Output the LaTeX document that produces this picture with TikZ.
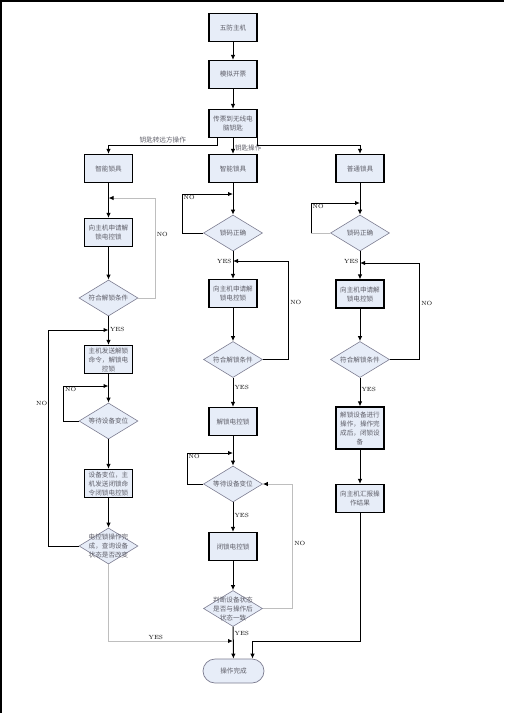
\documentclass[tikz,border=0pt]{standalone}
\usepackage{fontspec}
\usepackage{xcolor}
\usepackage{tikz}
\usetikzlibrary{shapes.geometric, arrows.meta}
\newfontfamily\cjk{Noto Sans CJK SC}
\definecolor{boxblue}{RGB}{231,237,248}
\definecolor{txtgray}{RGB}{95,95,105}
\definecolor{diagray}{RGB}{125,125,145}
\definecolor{linegray}{RGB}{190,190,190}
\newcommand{\boxfont}{\cjk\fontsize{6.6}{9}\selectfont}
\tikzstyle{stepbox} = [rectangle, draw, line width=1.1pt, fill=boxblue, minimum width=48pt, minimum height=28pt, inner sep=1pt, align=center, font=\boxfont, text=txtgray]
\tikzstyle{decide} = [diamond, draw=diagray, line width=0.6pt, fill=boxblue, minimum width=59pt, minimum height=36pt, inner sep=0pt]
\tikzstyle{dtxt} = [font=\boxfont, text=txtgray, align=center, inner sep=0pt]
\tikzstyle{finish} = [rectangle, rounded corners=12pt, draw=diagray, line width=0.7pt, fill=boxblue, minimum width=61pt, minimum height=24pt, font=\boxfont, text=txtgray]
\tikzstyle{arrow} = [-{Latex[length=5pt,width=4.5pt,color=black]}, line width=1pt]
\tikzstyle{lbl} = [font=\fontsize{6}{6}\selectfont, inner sep=1pt]
\tikzstyle{clbl} = [font=\boxfont, text=txtgray, inner sep=1.5pt]

\begin{document}
\begin{tikzpicture}[x=1pt, y=-1pt]
\useasboundingbox (0,0) rectangle (504,713);
\draw[line width=1.6pt] (0,0.8) -- (504,0.8);
\draw[line width=1.6pt] (1,0) -- (1,713);

% main column
\node (host) at (233,27.5) [stepbox] {五防主机};
\node (ticket) at (233,74.5) [stepbox] {模拟开票};
\node (trans) at (233,123.5) [stepbox] {传票到无线电\\脑钥匙};

% left column
\node (l1) at (108.5,168.5) [stepbox] {智能锁具};
\node (l2) at (108.5,232.5) [stepbox] {向主机申请解\\锁电控锁};
\node (ld1) at (108.5,298) [decide, label={[dtxt]center:符合解锁条件}] {};
\node (l3) at (108.5,359.5) [stepbox] {主机发送解锁\\命令，解锁电\\控锁};
\node (ld2) at (108.5,421) [decide, label={[dtxt]center:等待设备变位}] {};
\node (l4) at (108.5,483.5) [stepbox] {设备变位，主\\机发送闭锁命\\令闭锁电控锁};
\node (ld3) at (108.5,546) [decide, label={[dtxt]center:电控锁操作完\\成，查询设备\\状态是否改变}] {};

% middle column
\node (m1) at (233,168.5) [stepbox] {智能锁具};
\node (md1) at (233,233) [decide, label={[dtxt]center:锁码正确}] {};
\node (m2) at (233,293.5) [stepbox] {向主机申请解\\锁电控锁};
\node (md2) at (233,359.5) [decide, label={[dtxt]center:符合解锁条件}] {};
\node (m3) at (233,421.5) [stepbox] {解锁电控锁};
\node (md3) at (233,484) [decide, label={[dtxt]center:等待设备变位}] {};
\node (m4) at (233,546.5) [stepbox] {闭锁电控锁};
\node (md4) at (233,608.5) [decide, label={[dtxt]center:判断设备状态\\是否与操作后\\状态一致}] {};
\node (done) at (233.5,671) [finish] {操作完成};

% right column
\node (r1) at (360,168.5) [stepbox] {普通锁具};
\node (rd1) at (360,233) [decide, label={[dtxt]center:锁码正确}] {};
\node (r2) at (360,294) [stepbox] {向主机申请解\\锁电控锁};
\node (rd2) at (360,359.5) [decide, label={[dtxt]center:符合解锁条件}] {};
\node (r3) at (360,428) [stepbox, minimum height=42pt] {解锁设备进行\\操作，操作完\\成后，闭锁设\\备};
\node (r4) at (360,498.5) [stepbox] {向主机汇报操\\作结果};

% join points
\coordinate (lj1) at (108.5,198);
\coordinate (lj2) at (108.5,330);
\coordinate (lj3) at (108.5,386);
\coordinate (mj1) at (233,194);
\coordinate (mj2) at (233,261);
\coordinate (mj3) at (233,453);
\coordinate (mj4) at (233,641);
\coordinate (rj1) at (360,203);
\coordinate (rj2) at (360,263);

\draw[arrow] (host) -- (ticket);
\draw[arrow] (ticket) -- (trans);
\draw[arrow] ([xshift=-16pt]trans.south) -- ++(0,7) -| node[clbl, above, pos=0.25] (remote) {钥匙转远方操作} (l1.north);
\draw[arrow] (trans) -- node[clbl, right, pos=0.6] (keyop) {钥匙操作} (m1);
\draw[arrow] (trans.south east) -- ++(0,7) -| (r1.north);

% left column links
\draw[arrow] (l1) -- (l2);
\draw[arrow] (l2) -- (ld1);
\draw[arrow, draw=linegray] (ld1.east) -- ++(17,0) |- node[lbl, right, pos=0.32] (lno1) {NO} (lj1);
\draw[arrow] (ld1) -- node[lbl, right, pos=0.45] (lyes1) {YES} (l3);
\draw[arrow] (l3) -- (ld2);
\draw[arrow] (ld2.west) -- ++(-15,0) |- node[lbl, below right, pos=0.5] (lno2) {NO} (lj3);
\draw[arrow] (ld2) -- (l4);
\draw[arrow] (l4) -- (ld3);
\draw[arrow] (ld3.west) -- ++(-30,0) |- node[lbl, left, pos=0.33] (lno3) {NO} (lj2);
\draw[arrow, draw=linegray] (ld3.south) |- node[lbl, above, pos=0.69] (lyes2) {YES} (mj4);

% middle column links
\draw[arrow] (m1) -- (md1);
\draw[arrow] (md1.west) -- ++(-21,0) |- node[lbl, below right, pos=0.5] (mno1) {NO} (mj1);
\draw[arrow] (md1) -- node[lbl, left, pos=0.36] (myes1) {YES} (m2);
\draw[arrow] (m2) -- (md2);
\draw[arrow] (md2.east) -- ++(26,0) |- node[lbl, right, pos=0.29] (mno2) {NO} (mj2);
\draw[arrow] (md2) -- node[lbl, right, pos=0.33] (myes2) {YES} (m3);
\draw[arrow] (m3) -- (md3);
\draw[arrow] (md3.west) -- ++(-16,0) |- node[lbl, below right, pos=0.5] (mno3) {NO} (mj3);
\draw[arrow] (md3) -- node[lbl, right, pos=0.45] (myes3) {YES} (m4);
\draw[arrow] (m4) -- (md4);
\draw[arrow, draw=linegray] (md4.east) -- ++(30,0) |- node[lbl, right, pos=0.26] (mno4) {NO} (md3.east);
\draw[arrow] (md4) -- node[lbl, right, pos=0.2] (myes4) {YES} (done);

% right column links
\draw[arrow] (r1) -- (rd1);
\draw[line width=1pt, draw=linegray] (rd1.west) -- ++(-19,0) coordinate (rk1);
\draw[arrow] (rk1) |- node[lbl, below right, pos=0.5] (rno1) {NO} (rj1);
\draw[arrow] (rd1) -- node[lbl, left, pos=0.36] (ryes1) {YES} (r2);
\draw[arrow] (r2) -- (rd2);
\draw[arrow] (rd2.east) -- ++(30,0) |- node[lbl, right, pos=0.29] (rno2) {NO} (rj2);
\draw[arrow] (rd2) -- node[lbl, right, pos=0.4] (ryes2) {YES} (r3);
\draw[arrow] (r3) -- (r4);
\draw[arrow] (r4.south) -- (r4.south |- mj4) -| ([xshift=19pt]done.north);
\end{tikzpicture}
\end{document}
